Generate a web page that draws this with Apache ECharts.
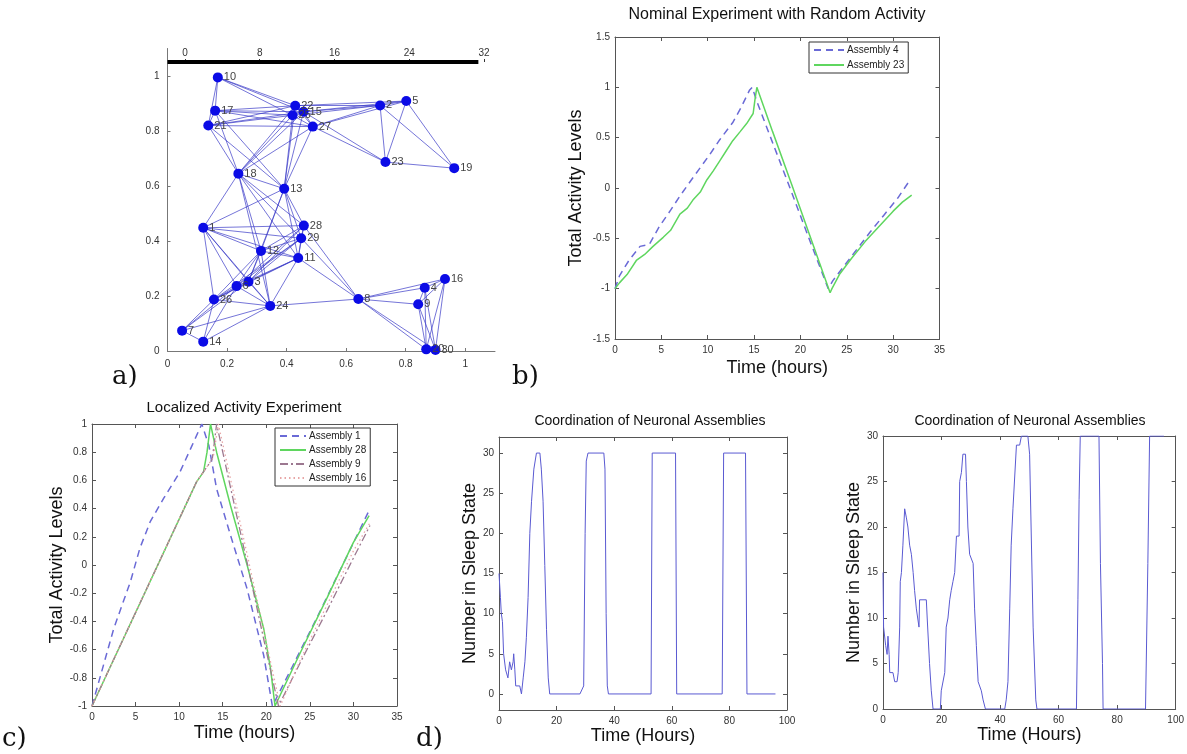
<!DOCTYPE html>
<html><head><meta charset="utf-8">
<script src="https://cdn.jsdelivr.net/npm/echarts@6/dist/echarts.min.js"></script>
<style>html,body{margin:0;padding:0;background:#fff}#c{width:1187px;height:754px}</style>
</head><body><div id="c"></div>
<script>
// ---------- Panel a: assembly network ----------
const aNodeNames = ['1','2','3','4','5','6','7','8','9','10','11','12','13','14','15','16','17','18','19','20','21','22','23','24','25','26','27','28','29','30'];
const aNodeX = [0.12,0.714,0.272,0.864,0.802,0.232,0.049,0.641,0.842,0.169,0.439,0.314,0.392,0.12,0.457,0.932,0.16,0.238,0.963,0.869,0.137,0.429,0.732,0.345,0.42,0.156,0.488,0.458,0.449,0.90];
const aNodeY = [0.448,0.893,0.252,0.23,0.909,0.236,0.074,0.189,0.17,0.995,0.338,0.364,0.59,0.034,0.870,0.262,0.874,0.645,0.665,0.006,0.82,0.892,0.687,0.164,0.857,0.187,0.816,0.456,0.41,0.004];
const aEdges = [
 [10,17],[10,21],[10,22],[10,25],[10,15],
 [17,21],[17,22],[17,25],[17,15],[17,27],[17,18],[17,13],
 [21,22],[21,25],[21,15],[21,27],[21,18],[21,13],
 [22,25],[22,15],[22,27],[25,15],[25,27],[15,27],
 [18,22],[18,25],[18,15],[18,27],[18,13],
 [13,22],[13,25],[13,15],[13,27],
 [22,2],[25,2],[15,2],[27,2],[22,5],[15,5],[27,5],
 [27,23],[15,23],
 [2,5],[2,23],[2,19],[5,23],[5,19],[23,19],
 [18,1],[18,12],[18,28],[18,29],[18,11],[18,24],
 [13,1],[13,28],[13,29],[13,11],[13,12],[13,3],
 [1,28],[1,29],[1,12],[1,11],[1,26],[1,6],[1,3],[1,24],
 [12,28],[12,29],[12,11],[12,6],[12,3],[12,24],[12,26],
 [28,29],[28,11],[29,11],[28,6],[29,6],[29,3],[11,3],[11,6],[28,3],
 [28,8],[29,8],[11,8],
 [26,6],[26,3],[26,29],[26,11],[26,24],[26,7],[26,14],
 [6,3],[6,24],[3,24],[6,7],[6,14],[24,7],[24,14],[7,14],[24,8],[24,11],[3,7],
 [8,16],[8,4],[8,9],[8,20],[8,30],[4,16],[9,16],[4,9],[4,20],[4,30],[9,20],[9,30],[16,20],[16,30],[20,30]
];
const aXTicks = [0,0.2,0.4,0.6,0.8,1];
const aYTicks = [0,0.2,0.4,0.6,0.8,1];
const aScaleTicks = [0,8,16,24,32];
const aScaleBarX = [-1.87,31.4];
const aScaleBarY = [0,0];

// ---------- Panel b ----------
const bTime4 = [0,0.5,1.5,2.7,3.7,4.8,6,7,8,9.1,10.2,11.3,12.7,13.6,14.5,14.8,15.3,17,19,21,23,23.5,24.5,26,27.5,29,30.5,31.6];
const bVal4  = [-1,-0.87,-0.72,-0.58,-0.56,-0.38,-0.22,-0.08,0.05,0.19,0.33,0.48,0.65,0.8,0.97,1.0,0.86,0.45,-0.03,-0.52,-1.0,-0.92,-0.8,-0.62,-0.44,-0.27,-0.1,0.05];
const bTime23 = [0,0.5,1.3,2.3,3.2,4.1,5.2,6,7,7.8,8.4,9.2,9.9,10.6,11.3,12,12.7,13.5,14.2,14.9,15.1,15.3,17,19,21,23.2,23.4,24.2,25.5,27,28.5,30,31,32];
const bVal23  = [-1,-0.94,-0.86,-0.72,-0.66,-0.58,-0.49,-0.42,-0.26,-0.2,-0.12,-0.04,0.08,0.17,0.27,0.37,0.47,0.56,0.64,0.74,0.88,1.0,0.56,0.05,-0.47,-1.04,-1.0,-0.86,-0.7,-0.53,-0.38,-0.23,-0.14,-0.07];
const bXTicks = [0,5,10,15,20,25,30,35];
const bYTicks = [-1.5,-1,-0.5,0,0.5,1,1.5];

// ---------- Panel c ----------
const cTime1 = [0,2.5,4.4,5.5,6.7,8.2,10.1,11.5,12.6,13.4,14.3,15.9,17.8,19.7,20.7,23,26,29,31.9];
const cVal1  = [-1,-0.45,-0.12,0.12,0.31,0.47,0.66,0.85,1.0,0.85,0.54,0.21,-0.17,-0.64,-1.0,-0.72,-0.35,0.03,0.4];
const cTime28 = [0,12.0,12.8,13.2,13.6,14.3,15.9,17.8,19.7,20.5,21.0,24,27,30,31.8];
const cVal28  = [-1,0.59,0.66,0.8,1.0,0.8,0.42,0.0,-0.45,-0.74,-1.0,-0.61,-0.23,0.16,0.35];
const cTime9 = [0,12,13.8,14.3,16,18,20,21.4,24,27,30,31.9];
const cVal9  = [-1,0.59,0.75,1.0,0.52,-0.04,-0.61,-1.0,-0.68,-0.32,0.05,0.28];
const cTime16 = [0,12,13.9,14.5,16,18,20,21.6,24,27,30,31.9];
const cVal16  = [-1,0.59,0.76,1.0,0.58,0.02,-0.55,-1.0,-0.66,-0.28,0.1,0.3];
const cXTicks = [0,5,10,15,20,25,30,35];
const cYTicks = [-1,-0.8,-0.6,-0.4,-0.2,0,0.2,0.4,0.6,0.8,1];

// ---------- Panel d (left) ----------
const d1Time = [0,0.5,0.8,1.2,1.6,2.3,3.1,3.7,4.3,4.9,5.1,5.5,5.8,7.2,7.8,8.4,9.0,9.5,10.1,10.7,11.3,12.1,13.0,14.2,14.7,15.3,15.9,16.5,17.1,17.6,28.1,29.4,29.9,30.3,30.9,36.4,36.8,37.2,37.6,38.0,52.8,53.2,61.3,61.7,77.5,78.0,85.6,86.1,96];
const d1Val  = [15,12,10,9,5,3,2,4,3,4,5,3,1,1,0,2,4,7,12,20,24,28,30,30,28,24,16,8,2,0,0,1,20,29,30,30,28,10,1,0,0,30,30,0,0,30,30,0,0];
const d1XTicks = [0,20,40,60,80,100];
const d1YTicks = [0,5,10,15,20,25,30];

// ---------- Panel d (right) ----------
const d2Time = [0,0.2,0.9,1.4,1.7,2.1,2.3,3.4,4.0,4.8,5.2,5.7,5.9,6.3,6.8,7.4,8.0,8.5,9.1,9.7,10.3,10.8,11.4,12.3,12.5,14.8,15.1,15.9,16.5,17.1,19.6,19.9,21.1,21.6,22.2,22.8,23.3,23.9,24.5,25.1,26.0,26.2,26.8,27.3,28.2,28.5,29.0,29.6,30.8,31.3,31.9,32.5,33.6,34.2,35.0,41.6,42.1,42.7,43.3,43.8,44.4,45.0,45.6,46.7,47.3,49.5,50.1,51.3,52.2,52.6,66.1,66.6,67.0,67.4,73.8,74.3,75.0,75.2,89.7,90.5,91.1,96];
const d2Val  = [15,9,7,6,8,6,4,4,3,3,4,9,14,15,18,22,21,20,18,17,15,13,11,9,12,12,10,5,2,0,0,2,4,9,10,12,13,14,15,19,19,25,26,28,28,25,20,17,16,11,7,3,2,1,0,0,1,3,11,18,22,22,29,29,30,30,28,9,1,0,0,12,23,30,30,16,5,0,0,16,30,30];
const d2XTicks = [0,20,40,60,80,100];
const d2YTicks = [0,5,10,15,20,25,30];

// ---------- build ----------
const FONT = '"Liberation Sans", Arial, sans-serif';
const zip = (t, v) => t.map((x, i) => [x, v[i]]);
const fmt = v => String(Math.round(v * 100) / 100);

function mainAxis(gi, pos, min, max, ticks, name, gap, isY) {
  return {
    type: 'value', gridIndex: gi, position: pos, min: min, max: max,
    axisLine: { show: true, onZero: false, lineStyle: { color: '#555', width: 1 } },
    axisTick: { show: true, inside: true, length: 4, customValues: ticks, lineStyle: { color: '#555' } },
    axisLabel: { show: true, customValues: ticks, fontSize: 10, color: '#333', fontFamily: FONT, margin: isY ? 5 : 6, formatter: fmt },
    splitLine: { show: false },
    name: name, nameLocation: 'middle', nameGap: gap, nameRotate: isY ? 90 : 0,
    nameTextStyle: { fontSize: 18, fontFamily: FONT, color: '#111' }
  };
}
function mirrorAxis(gi, pos, min, max, ticks) {
  return {
    type: 'value', gridIndex: gi, position: pos, min: min, max: max,
    axisLine: { show: true, onZero: false, lineStyle: { color: '#555', width: 1 } },
    axisTick: { show: true, inside: true, length: 4, customValues: ticks, lineStyle: { color: '#555' } },
    axisLabel: { show: false }, splitLine: { show: false }
  };
}

const grids = [
  { left: 167.5, top: 48.5, width: 327.5, height: 302.5 },
  { left: 167.5, top: 61, width: 327.5, height: 2 },
  { left: 615, top: 37, width: 324.5, height: 302 },
  { left: 92, top: 424, width: 305, height: 282 },
  { left: 499, top: 437, width: 288, height: 273 },
  { left: 883, top: 436, width: 293, height: 273 }
];

const xAxes = [
  { type: 'value', gridIndex: 0, position: 'bottom', min: 0, max: 1.1,
    axisLine: { show: true, onZero: false, lineStyle: { color: '#777' } },
    axisTick: { show: true, inside: true, length: 3, customValues: aXTicks, lineStyle: { color: '#777' } },
    axisLabel: { customValues: aXTicks, fontSize: 10, color: '#333', fontFamily: FONT, formatter: fmt },
    splitLine: { show: false } },
  { type: 'value', gridIndex: 1, position: 'top', min: -1.87, max: 33.18,
    axisLine: { show: false },
    axisTick: { show: true, inside: false, length: 3, customValues: aScaleTicks, lineStyle: { color: '#333' } },
    axisLabel: { customValues: aScaleTicks, fontSize: 10, color: '#333', fontFamily: FONT, margin: 3 },
    splitLine: { show: false } },
  mainAxis(2, 'bottom', 0, 35, bXTicks, 'Time (hours)', 20, false),
  mirrorAxis(2, 'top', 0, 35, bXTicks),
  mainAxis(3, 'bottom', 0, 35, cXTicks, 'Time (hours)', 18, false),
  mirrorAxis(3, 'top', 0, 35, cXTicks),
  mainAxis(4, 'bottom', 0, 100, d1XTicks, 'Time (Hours)', 15, false),
  mirrorAxis(4, 'top', 0, 100, d1XTicks),
  mainAxis(5, 'bottom', 0, 100, d2XTicks, 'Time (Hours)', 15, false),
  mirrorAxis(5, 'top', 0, 100, d2XTicks)
];
const yAxes = [
  { type: 'value', gridIndex: 0, position: 'left', min: 0, max: 1.1,
    axisLine: { show: true, onZero: false, lineStyle: { color: '#777' } },
    axisTick: { show: true, inside: true, length: 3, customValues: aYTicks, lineStyle: { color: '#777' } },
    axisLabel: { customValues: aYTicks, fontSize: 10, color: '#333', fontFamily: FONT, formatter: fmt },
    splitLine: { show: false } },
  { type: 'value', gridIndex: 1, min: -1, max: 1, show: false },
  mainAxis(2, 'left', -1.5, 1.5, bYTicks, 'Total Activity Levels', 30, true),
  mirrorAxis(2, 'right', -1.5, 1.5, bYTicks),
  mainAxis(3, 'left', -1, 1, cYTicks, 'Total Activity Levels', 25, true),
  mirrorAxis(3, 'right', -1, 1, cYTicks),
  mainAxis(4, 'left', -2, 32, d1YTicks, 'Number in Sleep State', 17, true),
  mirrorAxis(4, 'right', -2, 32, d1YTicks),
  mainAxis(5, 'left', 0, 30, d2YTicks, 'Number in Sleep State', 18, true),
  mirrorAxis(5, 'right', 0, 30, d2YTicks)
];

function lineSeries(name, xi, t, v, color, type, width) {
  return { name: name, type: 'line', xAxisIndex: xi, yAxisIndex: xi, data: zip(t, v),
    symbol: 'none', smooth: false, clip: true,
    lineStyle: { color: color, width: width, type: type }, itemStyle: { color: color } };
}

const series = [
  { type: 'graph', coordinateSystem: 'cartesian2d', xAxisIndex: 0, yAxisIndex: 0, layout: 'none',
    symbolSize: 10, itemStyle: { color: '#0b0be6' },
    label: { show: true, position: 'right', distance: 1, fontSize: 11, color: '#444', fontFamily: FONT, formatter: '{b}' },
    lineStyle: { color: '#3a3ac8', opacity: 0.7, width: 1, curveness: 0 },
    data: aNodeNames.map((n, i) => ({ name: n, value: [aNodeX[i], aNodeY[i]] })),
    links: aEdges.map(e => ({ source: String(e[0]), target: String(e[1]) })) },
  { type: 'line', xAxisIndex: 1, yAxisIndex: 1, data: zip(aScaleBarX, aScaleBarY), symbol: 'none',
    lineStyle: { color: '#000', width: 4 }, clip: false },
  lineSeries('Assembly 4', 2, bTime4, bVal4, '#6a6ad6', [7, 5], 1.5),
  lineSeries('Assembly 23', 2, bTime23, bVal23, '#5fd65f', 'solid', 1.5),
  lineSeries('Assembly 1', 4, cTime1, cVal1, '#6a6ad6', [7, 5], 1.5),
  lineSeries('Assembly 28', 4, cTime28, cVal28, '#5fd65f', 'solid', 1.5),
  lineSeries('Assembly 9', 4, cTime9, cVal9, '#9c7890', [8, 3, 2, 3], 1.3),
  lineSeries('Assembly 16', 4, cTime16, cVal16, '#e8a6a6', [1.5, 3], 1.3),
  lineSeries('d1', 6, d1Time, d1Val, '#5a5ad2', 'solid', 1),
  lineSeries('d2', 8, d2Time, d2Val, '#5a5ad2', 'solid', 1)
];

const legendCommon = {
  orient: 'vertical', borderColor: '#333', borderWidth: 1, backgroundColor: '#fff',
  padding: [3, 4, 3, 4], itemGap: 5, itemWidth: 30, itemHeight: 10, selectedMode: false,
  itemStyle: { opacity: 0 },
  textStyle: { fontSize: 10, color: '#222', fontFamily: FONT, padding: [0, 0, 0, -2] }
};
const legends = [
  Object.assign({}, legendCommon, { data: ['Assembly 4', 'Assembly 23'], left: 809, top: 42 }),
  Object.assign({}, legendCommon, { data: ['Assembly 1', 'Assembly 28', 'Assembly 9', 'Assembly 16'], left: 275, top: 428, itemWidth: 26, itemGap: 4 })
];

function txt(x, y, s, font, align) {
  return { type: 'text', x: x, y: y, silent: true,
    style: { text: s, font: font, fill: '#111', textAlign: align, align: align, textVerticalAlign: 'middle', verticalAlign: 'middle' } };
}
const graphics = [
  txt(777, 15, 'Nominal Experiment with Random Activity', '16px ' + FONT, 'center'),
  txt(244, 408, 'Localized Activity Experiment', '15px ' + FONT, 'center'),
  txt(650, 421, 'Coordination of Neuronal Assemblies', '14px ' + FONT, 'center'),
  txt(1030, 421, 'Coordination of Neuronal Assemblies', '14px ' + FONT, 'center'),
  txt(112, 377, 'a)', '26px "DejaVu Serif", "Liberation Serif", serif', 'left'),
  txt(512, 377, 'b)', '26px "DejaVu Serif", "Liberation Serif", serif', 'left'),
  txt(2, 739, 'c)', '26px "DejaVu Serif", "Liberation Serif", serif', 'left'),
  txt(416, 739, 'd)', '26px "DejaVu Serif", "Liberation Serif", serif', 'left')
];

const chart = echarts.init(document.getElementById('c'), null, { renderer: 'canvas' });
chart.setOption({
  backgroundColor: '#fff', animation: false,
  grid: grids, xAxis: xAxes, yAxis: yAxes, series: series, legend: legends, graphic: graphics
});
</script></body></html>
